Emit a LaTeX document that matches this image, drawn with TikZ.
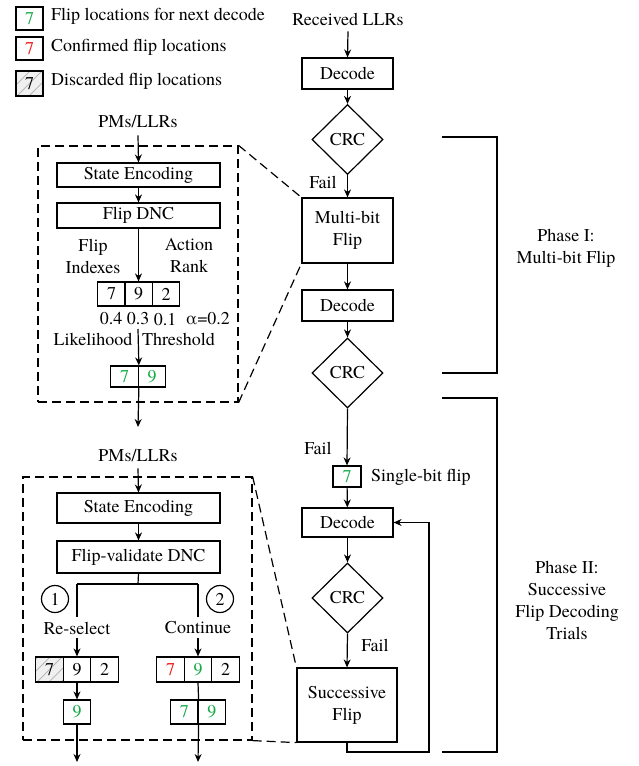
\documentclass[tikz,border=0pt]{standalone}
\usepackage{fontspec}
\setmainfont{TeX Gyre Termes}
\usetikzlibrary{shapes.geometric,arrows.meta,calc}
\definecolor{fgreen}{RGB}{20,170,70}
\definecolor{fred}{RGB}{240,20,20}
\begin{document}
\begin{tikzpicture}[x=1pt,y=-1pt,
  every node/.style={font=\rmfamily\fontsize{18}{22}\selectfont, inner sep=0pt},
  lw/.style={line width=1.2pt},
  arr/.style={lw,-{Stealth[length=8pt,width=7pt]}},
  box/.style={draw,lw,minimum width=91,minimum height=31,align=center},
  crc/.style={draw,lw,diamond,aspect=1,minimum width=71,minimum height=70},
  wbox/.style={draw,lw,minimum width=163},
  cell/.style={draw,lw,minimum width=27.5,minimum height=24},
  hatch/.style={fill=gray!12,path picture={
     \foreach \i in {-36,-24,...,36}
       \draw[gray!55,line width=1pt] ($(path picture bounding box.center)+(\i-16,16)$) -- ++(32,-32);}},
  dashbox/.style={draw,lw,dash pattern=on 9pt off 5pt},
  dashln/.style={lw,dash pattern=on 9pt off 5pt},
  brk/.style={lw},
  circ/.style={draw,lw,circle,minimum size=27}
]
\useasboundingbox (0,0) rectangle (638,766);

% ---------- legend ----------
\node[cell,minimum width=27,minimum height=23,text=fgreen] (lg1) at (29.5,18.5) {7};
\node[anchor=west] (lt1) at (51,16) {Flip locations for next decode};
\node[cell,minimum width=27,minimum height=23,text=fred] (lg2) at (29.5,48.5) {7};
\node[anchor=west] (lt2) at (51,47) {Confirmed flip locations};
\node[cell,minimum width=27,minimum height=25,hatch] (lg3) at (29.5,83.5) {7};
\node[anchor=west] (lt3) at (51,81) {Discarded flip locations};

% ---------- main flow ----------
\node (rx) at (348,19) {Received LLRs};
\node[box] (dec1) at (347.5,73.5) {Decode};
\node[crc] (crc1) at (347.5,139.5) {CRC};
\node (fail1) at (323,182) {Fail};
\node[box,minimum height=65] (mb) at (347.5,230.5) {Multi-bit\\Flip};
\node[box] (dec2) at (347.5,305.5) {Decode};
\node[crc] (crc2) at (347.5,373) {CRC};
\node (fail2) at (318,448) {Fail};
\node[cell,minimum width=28,minimum height=21,text=fgreen] (sb) at (347,476.5) {7};
\node[anchor=west] (sbt) at (371,477) {Single-bit flip};
\node[box,minimum height=29] (dec3) at (347.5,522.5) {Decode};
\node[crc] (crc3) at (347.5,598) {CRC};
\node (fail3) at (375,645) {Fail};
\node[box,minimum width=100,minimum height=74] (sf) at (347,705) {Successive\\Flip};
\coordinate (lp) at (429,752);

\draw[arr] ($(rx.south)+(0,6)$) -- (dec1.north);
\draw[arr] (dec1) -- (crc1);
\draw[arr] (crc1) -- (mb);
\draw[arr] (mb) -- (dec2);
\draw[arr] (dec2) -- (crc2);
\draw[arr] (crc2.south) -- (sb.north);
\draw[arr] (sb) -- (dec3);
\draw[arr] (dec3) -- (crc3);
\draw[arr] (crc3.south) -- (sf.north);
\draw[arr] (sf.south) |- (lp) |- (dec3.east);

% brackets
\draw[brk] (442,137) -- (497,137) -- (497,373) -- (442,373);
\draw[brk] (442,398) -- (497,398) -- (497,752) -- (442,752);
\node[align=center] (ph1) at (566,248.5) {Phase I:\\Multi-bit Flip};
\node[align=center] (ph2) at (567,600) {Phase II:\\Successive\\Flip Decoding\\Trials};

% ---------- top detail panel ----------
\node[dashbox,minimum width=200,minimum height=256] (z1) at (138,274) {};
\node (pm1) at (138,122) {PMs/LLRs};
\node[wbox,minimum height=24] (se1) at (138.5,175) {State Encoding};
\node[wbox,minimum height=25] (fd1) at (138.5,215.5) {Flip DNC};
\node[align=center] (fi) at (93,256) {Flip\\Indexes};
\node[align=center] (ar) at (189,256) {Action\\Rank};
\node[cell] (a7) at (111.5,294) {7};
\node[cell] (a9) at (138.5,294) {9};
\node[cell] (a2) at (166,294) {2};
\node (p1) at (111,319) {0.4};
\node (p2) at (138,319) {0.3};
\node (p3) at (165,320) {0.1};
\node (alp) at (208,319) {α=0.2};
\node (lk) at (93,339) {Likelihood};
\node (th) at (178.5,339) {Threshold};
\node[cell,minimum height=21,text=fgreen] (b7) at (124.5,376.5) {7};
\node[cell,minimum height=21,text=fgreen] (b9) at (152,376.5) {9};
\coordinate (ls) at (138,329);
\coordinate (o1) at (138,427);

\draw[arr] ($(pm1.south)+(0,7)$) -- (se1.north);
\draw[arr] (se1) -- (fd1);
\draw[arr] (fd1.south) -- (a9.north);
\draw[arr] (ls) -- (b7.north east);
\draw[arr] (b7.south east) -- (o1);

\draw[dashln] (z1.north east) -- (mb.north west);
\draw[dashln] (z1.south east) -- (mb.south west);

% ---------- bottom detail panel ----------
\node[dashbox,minimum width=229,minimum height=263] (z2) at (137.5,608.5) {};
\node (pm2) at (138,456) {PMs/LLRs};
\node[wbox,minimum height=30] (se2) at (138.5,508) {State Encoding};
\node[wbox,minimum height=32] (fv) at (138.5,557) {Flip-validate DNC};
\coordinate (sp) at (138,584);
\coordinate (spl) at (77,584);
\coordinate (spr) at (198,584);
\coordinate (el) at (77,617);
\coordinate (er) at (198,617);
\node[circ] (c1) at (55,599) {1};
\node[circ] (c2) at (220,599) {2};
\node (rs) at (77,628) {Re-select};
\node (ct) at (198,628) {Continue};
\node[cell,minimum height=25,hatch] (l7) at (49.5,669.5) {7};
\node[cell,minimum height=25] (l9) at (77,669.5) {9};
\node[cell,minimum height=25] (l2) at (104.5,669.5) {2};
\node[cell,minimum height=25,text=fred] (r7) at (170.5,669.5) {7};
\node[cell,minimum height=25,text=fgreen] (r9) at (198,669.5) {9};
\node[cell,minimum height=25] (r2) at (225.5,669.5) {2};
\node[cell,minimum height=24,text=fgreen] (lg9) at (77,712) {9};
\node[cell,minimum height=24,text=fgreen] (rg7) at (184.25,712) {7};
\node[cell,minimum height=24,text=fgreen] (rg9) at (211.75,712) {9};
\coordinate (o2) at (77,762);
\coordinate (o3) at (198,762);

\draw[arr] ($(pm2.south)+(0,6)$) -- (se2.north);
\draw[arr] (se2) -- (fv);
\draw[lw] (fv.south) -- (sp);
\draw[lw] (spl) -- (spr);
\draw[lw] (spl) -- (el);
\draw[lw] (spr) -- (er);
\draw[arr] ($(rs.south)+(0,4)$) -- (l9.north);
\draw[arr] ($(ct.south)+(0,4)$) -- (r9.north);
\draw[arr] (l9.south) -- (lg9.north);
\draw[arr] (lg9.south) -- (o2);
\draw[lw] (r9.south) -- (rg7.north east);
\draw[arr] (rg7.south east) -- (o3);

\draw[dashln] (z2.north east) -- (sf.north west);
\draw[dashln] (z2.south east) -- (sf.south west);
\end{tikzpicture}
\end{document}
